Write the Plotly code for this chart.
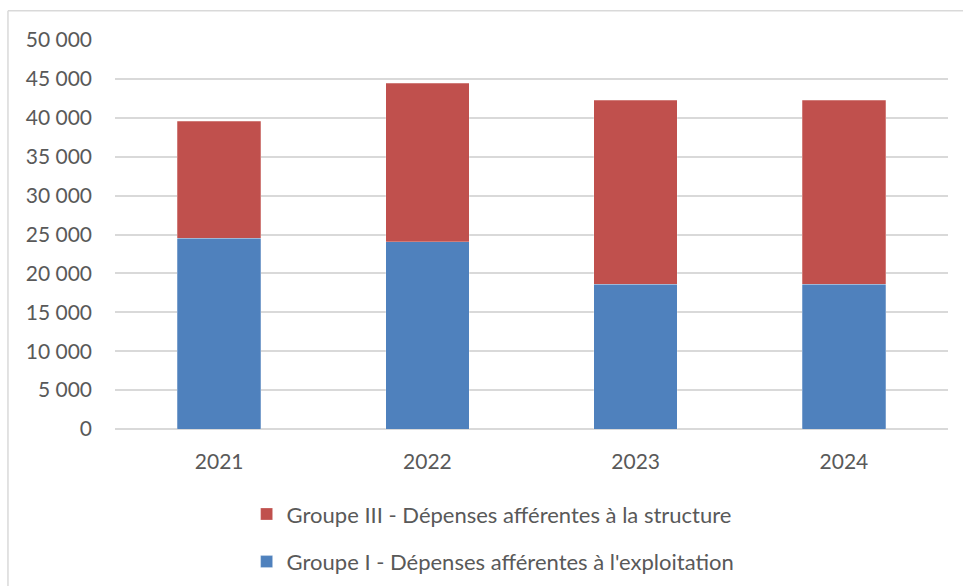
import plotly.graph_objects as go

# Budget expenses by year, stacked by group
years = ["2021", "2022", "2023", "2024"]
groupe_i = [24500, 24100, 18600, 18600]
groupe_iii = [15050, 20370, 23650, 23650]

y_ticks = [0, 5000, 10000, 15000, 20000, 25000, 30000, 35000, 40000, 45000, 50000]
y_tick_labels = ["0", "5 000", "10 000", "15 000", "20 000", "25 000",
                 "30 000", "35 000", "40 000", "45 000", "50 000"]

blue = "#4F81BD"
red = "#C0504D"
text_col = "#595959"
font_family = "Lato, Open Sans, sans-serif"

fig = go.Figure()
fig.add_trace(go.Bar(
    x=years, y=groupe_i,
    name="Groupe I - Dépenses afférentes à l'exploitation",
    marker=dict(color=blue, line=dict(color="rgba(255,255,255,0.5)", width=0.5)),
    legendgroup="g1", legendrank=2,
))
fig.add_trace(go.Bar(
    x=years, y=groupe_iii,
    name="Groupe III - Dépenses afférentes à la structure",
    marker=dict(color=red, line=dict(color="rgba(255,255,255,0.5)", width=0.5)),
    legendgroup="g3", legendrank=1,
))

fig.update_layout(
    width=963, height=586,
    margin=dict(l=115, r=15, t=40, b=157, autoexpand=False),
    barmode="stack",
    bargap=0.6,
    paper_bgcolor="white",
    plot_bgcolor="white",
    font=dict(family=font_family, size=21, color=text_col),
    showlegend=True,
    legend=dict(
        orientation="v",
        traceorder="grouped",
        tracegroupgap=16,
        x=0.158, xanchor="left",
        y=-0.165, yanchor="top",
        font=dict(family=font_family, size=22, color=text_col),
        bgcolor="rgba(0,0,0,0)",
    ),
    xaxis=dict(
        showgrid=False,
        showline=False,
        ticks="",
        ticklabelstandoff=18,
        tickfont=dict(family=font_family, size=21, color=text_col),
    ),
    yaxis=dict(
        range=[0, 50000],
        tickvals=y_ticks,
        ticktext=y_tick_labels,
        showgrid=True,
        gridcolor="#d9d9d9",
        gridwidth=1.5,
        zeroline=True,
        zerolinecolor="#d9d9d9",
        zerolinewidth=1.5,
        showline=False,
        ticks="",
        ticklabelstandoff=22,
        tickfont=dict(family=font_family, size=21, color=text_col),
    ),
    shapes=[
        # chart frame (top and left edges visible)
        dict(type="line", xref="paper", yref="paper",
             x0=-0.1285, x1=1.03, y0=1.0755, y1=1.0755,
             line=dict(color="#d9d9d9", width=1.5)),
        dict(type="line", xref="paper", yref="paper",
             x0=-0.1285, x1=-0.1285, y0=1.0755, y1=-0.45,
             line=dict(color="#d9d9d9", width=1.5)),
    ],
)

fig.write_html("out.html")
